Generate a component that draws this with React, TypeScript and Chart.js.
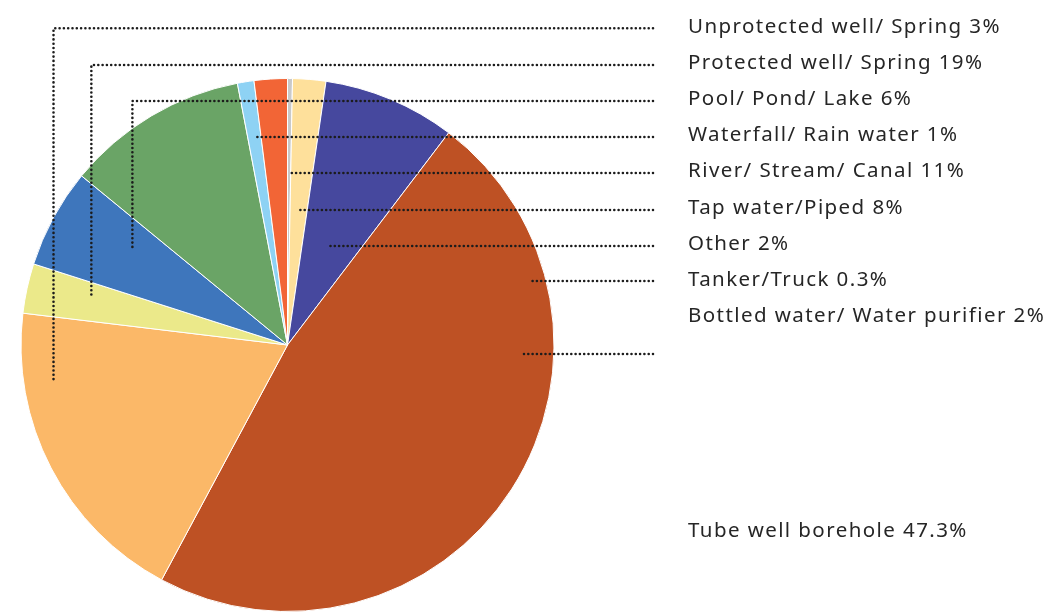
import React, { useEffect, useRef } from "react";
import { Chart, registerables } from "chart.js";

Chart.register(...registerables);

// Slices, clockwise from 12 o'clock
const categories = [
  "Tanker/Truck",
  "Bottled water/ Water purifier",
  "Tap water/Piped",
  "Tube well borehole",
  "Protected well/ Spring",
  "Unprotected well/ Spring",
  "Pool/ Pond/ Lake",
  "River/ Stream/ Canal",
  "Waterfall/ Rain water",
  "Other",
];
const values = [0.3, 2, 8, 47.3, 19, 3, 6, 11, 1, 2];
const colors = [
  "#C9C9C9",
  "#FEE09B",
  "#46489E",
  "#BE5124",
  "#FBB868",
  "#EBE98A",
  "#3E76BC",
  "#6AA466",
  "#8ED2F4",
  "#F26536",
];

// Legend rows on the right (display order)
const legendLabels = [
  "Unprotected well/ Spring 3%",
  "Protected well/ Spring 19%",
  "Pool/ Pond/ Lake 6%",
  "Waterfall/ Rain water 1%",
  "River/ Stream/ Canal 11%",
  "Tap water/Piped 8%",
  "Other 2%",
  "Tanker/Truck 0.3%",
  "Bottled water/ Water purifier 2%",
  "Tube well borehole 47.3%",
];

// Layout of labels / leaders (pixel rows, anchor as fraction of radius from centre)
const labelBaselines = [32.7, 69, 104.5, 140.8, 177, 213.5, 249.8, 286, 322.2, 536.7];
const leaderRows = [28.3, 65, 101, 137, 173, 210, 246, 281, 354, null];
const leaderAnchors: ([number, number] | null)[] = [
  [-0.878, 0.139],
  [-0.736, -0.176],
  [-0.582, -0.363],
  [-0.125, -0.779],
  [0.009, -0.644],
  [0.047, -0.506],
  [0.159, -0.371],
  [0.919, -0.24],
  [0.882, 0.034],
  null,
];
const firstLabelWidth = 313;

const leaderPlugin = {
  id: "leaders",
  afterDraw(chart: any) {
    const ctx = chart.ctx;
    const arc = chart.getDatasetMeta(0).data[0];
    if (!arc) return;
    const cx = arc.x;
    const cy = arc.y;
    const r = arc.outerRadius;
    const lineEndX = 653;
    const textX = 688;
    ctx.save();
    // leaders
    ctx.strokeStyle = "#1c1c1c";
    ctx.lineWidth = 2.6;
    ctx.lineCap = "round";
    ctx.setLineDash([0, 4.3]);
    leaderAnchors.forEach((a, i) => {
      const row = leaderRows[i];
      if (!a || row == null) return;
      const ax = cx + a[0] * r;
      const ay = cy + a[1] * r;
      ctx.beginPath();
      ctx.moveTo(lineEndX, row);
      ctx.lineTo(ax, row);
      if (Math.abs(ay - row) > 2) ctx.lineTo(ax, ay);
      ctx.stroke();
    });
    ctx.setLineDash([]);
    // labels
    ctx.fillStyle = "#262626";
    ctx.font = '20.5px "Noto Sans"';
    ctx.textBaseline = "alphabetic";
    ctx.textAlign = "left";
    const w = ctx.measureText(legendLabels[0]).width;
    const spacing = Math.max(0, (firstLabelWidth - w) / legendLabels[0].length);
    (ctx as any).letterSpacing = spacing.toFixed(2) + "px";
    legendLabels.forEach((t, i) => {
      ctx.fillText(t, textX, labelBaselines[i]);
    });
    ctx.restore();
  },
};

export default function App() {
  const ref = useRef<HTMLCanvasElement>(null);
  useEffect(() => {
    document.body.style.margin = "0";
    const chart = new Chart(ref.current!, {
      type: "pie",
      data: {
        labels: categories,
        datasets: [
          {
            data: values,
            backgroundColor: colors,
            borderColor: "#ffffff",
            borderWidth: 1,
          },
        ],
      },
      options: {
        animation: false,
        responsive: false,
        maintainAspectRatio: false,
        layout: { padding: { left: 20, top: 78, right: 493, bottom: 2 } },
        plugins: {
          legend: { display: false },
          tooltip: { enabled: false },
        },
      },
      plugins: [leaderPlugin],
    });
    return () => chart.destroy();
  }, []);
  return (
    <div style={{ position: "fixed", left: 0, top: 0, width: 1048, height: 614, background: "#fff" }}>
      <canvas ref={ref} width={1048} height={614} style={{ width: 1048, height: 614 }} />
    </div>
  );
}
